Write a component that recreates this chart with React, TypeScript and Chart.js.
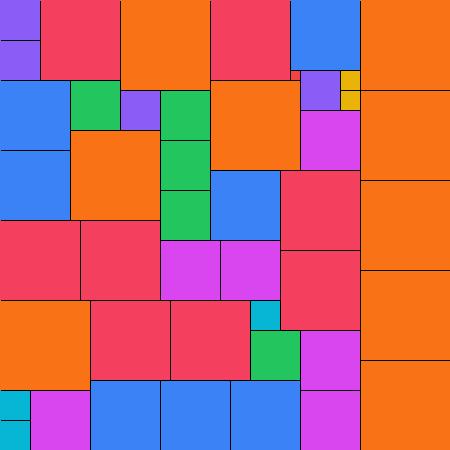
import React, { useEffect, useRef } from "react";
import { Chart, registerables } from "chart.js";

Chart.register(...registerables);

// Top-left corner (x, y) and side length of each square, in chart units
const squareX = [0, 0, 40, 120, 210, 290, 360, 290, 300, 340, 340, 300, 360, 360, 360, 360, 0, 0, 70, 120, 160, 160, 160, 210, 70, 210, 280, 0, 80, 160, 220, 280, 0, 90, 170, 250, 250, 300, 300, 0, 0, 30, 90, 160, 230];
const squareY = [0, 40, 0, 0, 0, 0, 0, 70, 70, 70, 90, 110, 90, 180, 270, 360, 80, 150, 80, 90, 90, 140, 190, 80, 130, 170, 170, 220, 220, 240, 240, 250, 300, 300, 300, 300, 330, 330, 390, 390, 420, 390, 380, 380, 380];
const squareSize = [40, 40, 80, 90, 80, 70, 90, 10, 40, 20, 20, 60, 90, 90, 90, 90, 70, 70, 50, 40, 50, 50, 50, 90, 90, 70, 80, 80, 80, 60, 60, 80, 90, 80, 80, 30, 50, 60, 60, 30, 30, 60, 70, 70, 70];

const sizeValues = [10, 20, 30, 40, 50, 60, 70, 80, 90];
const sizeColors = ["#ef4444", "#eab308", "#06b6d4", "#8b5cf6", "#22c55e", "#d946ef", "#3b82f6", "#f43f5e", "#f97316"];

const TOTAL = 450;

const squaresPlugin = {
  id: "squares",
  afterDatasetsDraw(chart: any) {
    const { ctx, chartArea, scales } = chart;
    const xs = scales.x;
    const ys = scales.y;
    const rects = squareX.map((x, i) => {
      const s = squareSize[i];
      const y = squareY[i];
      const x0 = Math.round(xs.getPixelForValue(x));
      const x1 = Math.round(xs.getPixelForValue(x + s));
      const y0 = Math.round(ys.getPixelForValue(y));
      const y1 = Math.round(ys.getPixelForValue(y + s));
      return { x0, y0, w: x1 - x0, h: y1 - y0, color: sizeColors[sizeValues.indexOf(s)] };
    });
    ctx.save();
    rects.forEach((r) => {
      ctx.fillStyle = r.color;
      ctx.fillRect(r.x0, r.y0, r.w, r.h);
    });
    ctx.beginPath();
    ctx.rect(chartArea.left + 1, chartArea.top + 1, chartArea.right - chartArea.left, chartArea.bottom - chartArea.top);
    ctx.clip();
    ctx.strokeStyle = "#000000";
    ctx.lineWidth = 1;
    rects.forEach((r) => {
      ctx.strokeRect(r.x0 + 0.5, r.y0 + 0.5, r.w, r.h);
    });
    ctx.restore();
  },
};

export default function App() {
  const canvasRef = useRef<HTMLCanvasElement | null>(null);

  useEffect(() => {
    if (!canvasRef.current) return;
    const chart = new Chart(canvasRef.current, {
      type: "scatter",
      data: {
        datasets: [
          {
            data: squareX.map((x, i) => ({ x: x + squareSize[i] / 2, y: squareY[i] + squareSize[i] / 2 })),
            pointRadius: 0,
            pointHoverRadius: 0,
          },
        ],
      },
      options: {
        responsive: false,
        animation: false,
        layout: { padding: 0 },
        plugins: { legend: { display: false }, tooltip: { enabled: false } },
        events: [],
        scales: {
          x: { type: "linear", min: 0, max: TOTAL, display: false },
          y: { type: "linear", min: 0, max: TOTAL, reverse: true, display: false },
        },
      },
      plugins: [squaresPlugin],
    });
    return () => chart.destroy();
  }, []);

  return (
    <div style={{ position: "absolute", left: 0, top: 0, width: 450, height: 450 }}>
      <canvas ref={canvasRef} width={450} height={450} />
    </div>
  );
}
